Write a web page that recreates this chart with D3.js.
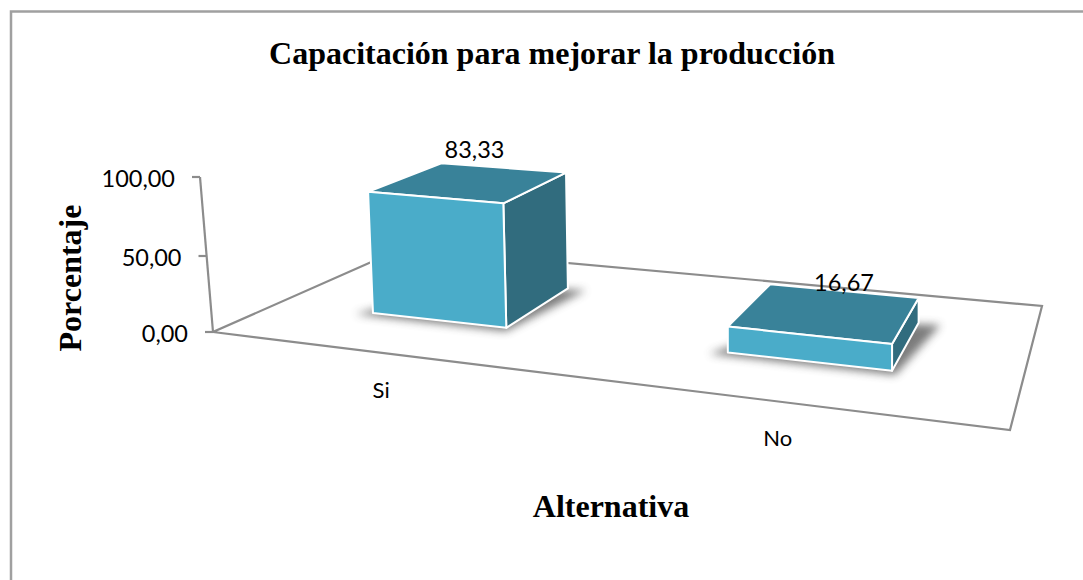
<!DOCTYPE html>
<html>
<head>
<meta charset="utf-8">
<script src="https://cdn.jsdelivr.net/npm/d3@7"></script>
<style>
  html, body { margin: 0; padding: 0; background: #fff; }
  svg { display: block; }
  .tick-label { font-family: Lato, "Open Sans", sans-serif; font-size: 23.5px; fill: #000; }
  .cat-label { font-family: Lato, "Open Sans", sans-serif; font-size: 22px; fill: #000; }
  .title { font-family: "Liberation Serif", serif; font-weight: bold; font-size: 32px; fill: #000; }
</style>
</head>
<body>
<div id="chart"></div>
<script>
const categories = ['Si', 'No'];
const values = [83.33, 16.67];
const valueLabels = ['83,33', '16,67'];
const yTicks = [0, 50, 100];
const yTickLabels = ['0,00', '50,00', '100,00'];

const width = 1083;
const height = 580;

/* Corners of the floor in the picture: front left, front right, back right, back left. */
const floor = [[213, 332], [1010, 430], [1042, 306], [403, 248]];

/* Where each value label sits relative to the back edge of its bar. */
const labelShift = [[-28, -10], [1, 0]];

/* Maps the unit square (u along the categories, d into the depth) onto the floor quad. */
function makeFloor(q) {
  const [[x0, y0], [x1, y1], [x2, y2], [x3, y3]] = q;
  const dx1 = x1 - x2, dx2 = x3 - x2, sx = x0 - x1 + x2 - x3;
  const dy1 = y1 - y2, dy2 = y3 - y2, sy = y0 - y1 + y2 - y3;
  const den = dx1 * dy2 - dx2 * dy1;
  const g = (sx * dy2 - dx2 * sy) / den;
  const h = (dx1 * sy - sx * dy1) / den;
  const a = x1 - x0 + g * x1, b = x3 - x0 + h * x3;
  const d = y1 - y0 + g * y1, e = y3 - y0 + h * y3;
  return (u, v) => {
    const w = g * u + h * v + 1;
    return [(a * u + b * v + x0) / w, (d * u + e * v + y0) / w];
  };
}
const floorPoint = makeFloor(floor);

const x = d3.scaleBand().domain(categories).range([0, 1.004]).paddingInner(0.6).paddingOuter(0.3);
const depth = d3.scaleLinear().domain([0, 1]).range([0.3, 0.72]);

/* Axis values along the leaning wall edge. */
const yAxisPx = d3.scaleLinear().domain([0, 50, 100]).range([332, 256, 177]);
const yAxisX = d3.scaleLinear().domain([0, 100]).range([213, 200]);

/* Bars rise a bit differently from the axis because of the perspective. */
const rise = d3.scaleLinear().domain([0, 100]).range([0, 150]);
const lean = d3.scaleLinear().domain([373, 700]).range([0.04, 0]).clamp(true);
const nearness = d3.scaleLinear().domain([0, 1]).range([1, 0.92]);
const acrossScale = d3.scaleLinear().domain([373, 892]).range([0.97, 1.07]);

function project(cat, uFrac, dFrac, value) {
  const u = x(cat) + uFrac * x.bandwidth();
  const base = floorPoint(u, depth(dFrac));
  const h = rise(value) * nearness(dFrac) * acrossScale(base[0]);
  return [base[0] - lean(base[0]) * h, base[1] - h];
}

const svg = d3.select('#chart').append('svg').attr('width', width).attr('height', height);

const defs = svg.append('defs');
defs.append('filter').attr('id', 'soft').attr('x', '-20%').attr('y', '-50%').attr('width', '140%').attr('height', '200%')
  .append('feGaussianBlur').attr('stdDeviation', 4.5);

// chart frame
svg.append('path')
  .attr('d', `M11,${height}V11.5H${width}`)
  .attr('fill', 'none').attr('stroke', '#a0a0a0').attr('stroke-width', 2.5);

// floor and axis
const gridColor = '#8c8c8c';
svg.append('path')
  .attr('d', d3.line()(floor) + 'Z')
  .attr('fill', 'none').attr('stroke', gridColor).attr('stroke-width', 2.2);
svg.append('path')
  .attr('d', d3.line()([[yAxisX(0), yAxisPx(0)], [yAxisX(100), yAxisPx(100)]]))
  .attr('fill', 'none').attr('stroke', gridColor).attr('stroke-width', 2.2);

yTicks.forEach((t, i) => {
  const tx = yAxisX(t);
  const ty = yAxisPx(t);
  svg.append('line').attr('x1', tx - 8).attr('x2', tx).attr('y1', ty).attr('y2', ty)
    .attr('stroke', gridColor).attr('stroke-width', 2.2);
  svg.append('text').attr('class', 'tick-label')
    .attr('x', tx - 25).attr('y', ty + 10).attr('text-anchor', 'end')
    .text(yTickLabels[i]);
});

// bars
const line = d3.line();
const bars = svg.selectAll('.bar').data(categories.map((c, i) => ({ c, v: values[i], label: valueLabels[i], shift: labelShift[i] })))
  .enter().append('g').attr('class', 'bar');

bars.append('path')
  .attr('d', (d) => line([
    project(d.c, -0.1, -0.06, 0), project(d.c, 1.03, -0.07, 0),
    project(d.c, 1.14, 1, 0), project(d.c, 0.3, 0.8, 0)
  ]) + 'Z')
  .attr('fill', '#444').attr('opacity', 0.7).attr('filter', 'url(#soft)');

const faceStyle = (sel, fill) => sel
  .attr('fill', fill).attr('stroke', '#fff').attr('stroke-width', 2).attr('stroke-linejoin', 'round');

bars.append('path')
  .attr('d', (d) => line([
    project(d.c, 1, 0, 0), project(d.c, 1, 1, 0), project(d.c, 1, 1, d.v), project(d.c, 1, 0, d.v)
  ]) + 'Z')
  .call(faceStyle, '#316c7e');
bars.append('path')
  .attr('d', (d) => line([
    project(d.c, 0, 0, d.v), project(d.c, 1, 0, d.v), project(d.c, 1, 1, d.v), project(d.c, 0, 1, d.v)
  ]) + 'Z')
  .call(faceStyle, '#398299');
bars.append('path')
  .attr('d', (d) => line([
    project(d.c, 0, 0, 0), project(d.c, 1, 0, 0), project(d.c, 1, 0, d.v), project(d.c, 0, 0, d.v)
  ]) + 'Z')
  .call(faceStyle, '#4aacc9');

bars.append('text').attr('class', 'tick-label')
  .attr('x', (d) => project(d.c, 0.5, 1, d.v)[0] + d.shift[0])
  .attr('y', (d) => project(d.c, 0.5, 1, d.v)[1] + d.shift[1])
  .attr('text-anchor', 'middle')
  .text((d) => d.label);

// category labels under the front edge
svg.selectAll('.cat-label').data(categories).enter().append('text')
  .attr('class', 'cat-label')
  .attr('x', (d) => floorPoint(x(d) + x.bandwidth() / 2, 0)[0])
  .attr('y', (d) => floorPoint(x(d) + x.bandwidth() / 2, 0)[1] + 45)
  .attr('text-anchor', 'middle')
  .text((d) => d);

// titles
svg.append('text').attr('class', 'title').attr('x', 552).attr('y', 64)
  .attr('text-anchor', 'middle').text('Capacitación para mejorar la producción');
svg.append('text').attr('class', 'title').attr('x', 611).attr('y', 517)
  .attr('text-anchor', 'middle').text('Alternativa');
svg.append('text').attr('class', 'title')
  .attr('transform', 'translate(81,278) rotate(-90)')
  .attr('text-anchor', 'middle').text('Porcentaje');
</script>
</body>
</html>
